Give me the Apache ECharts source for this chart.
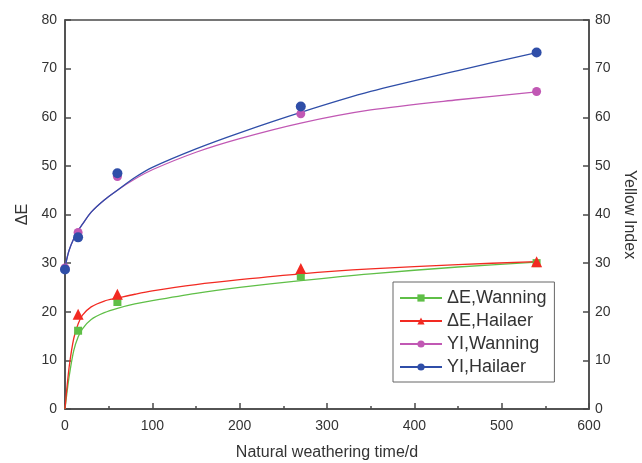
<!DOCTYPE html>
<html>
<head>
<meta charset="utf-8">
<script src="https://cdn.jsdelivr.net/npm/echarts@6/dist/echarts.min.js"></script>
<style>
  html, body { margin: 0; padding: 0; background: #fff; }
  #chart { width: 642px; height: 463px; }
</style>
</head>
<body>
<div id="chart"></div>
<script>
// measured points (days, value)
const daysMeasured = [15, 60, 270, 540]
const dEWanning = [16.1, 22.0, 27.3, 30.0]
const dEHailaer = [19.5, 23.6, 28.9, 30.3]
const yiDays = [0, 15, 60, 270, 540]
const yiWanning = [29.0, 36.3, 47.8, 60.7, 65.3]
const yiHailaer = [28.7, 35.3, 48.5, 62.2, 73.3]

// fitted curves
const fitDays = [0, 2, 5, 10, 15, 20, 30, 45, 60, 80, 100, 150, 200, 270, 350, 450, 540]
const fitDEWanning = [0, 3, 7, 12, 14.8, 16.5, 18.4, 19.8, 20.7, 21.6, 22.3, 23.8, 25.0, 26.4, 27.8, 29.2, 30.2]
const fitDEHailaer = [0, 4, 9, 14.5, 17.5, 19.3, 21.0, 22.2, 22.8, 23.6, 24.3, 25.6, 26.6, 27.8, 28.8, 29.7, 30.3]
const fitYIWanning = [29, 30.8, 32.8, 35, 36.6, 38, 40.5, 43, 45, 47.3, 49.2, 52.8, 55.6, 58.8, 61.5, 63.6, 65.2]
const fitYIHailaer = [29, 30.8, 32.8, 35, 36.7, 38, 40.5, 43, 45, 47.6, 49.7, 53.5, 56.8, 61.0, 65.3, 69.6, 73.3]

const names = ['ΔE,Wanning', 'ΔE,Hailaer', 'YI,Wanning', 'YI,Hailaer']
const colors = ['#5fbf47', '#f22a22', '#c158b4', '#2f4ea8']
const symbols = ['rect', 'triangle', 'circle', 'circle']
const symbolSizes = [8, 11, 9, 10]

const zip = (xs, ys) => xs.map((x, i) => [x, ys[i]])

const fits = [fitDEWanning, fitDEHailaer, fitYIWanning, fitYIHailaer]
const points = [zip(daysMeasured, dEWanning), zip(daysMeasured, dEHailaer), zip(yiDays, yiWanning), zip(yiDays, yiHailaer)]

const series = []
names.forEach((name, i) => {
  series.push({
    name, type: 'line', smooth: 0.3, showSymbol: false,
    symbol: symbols[i], symbolSize: symbolSizes[i] - 2,
    yAxisIndex: i < 2 ? 0 : 1,
    data: zip(fitDays, fits[i]),
    lineStyle: { color: colors[i], width: 1.3 },
    itemStyle: { color: colors[i] },
    silent: true, z: 2
  })
})
names.forEach((name, i) => {
  series.push({
    name, type: 'scatter',
    symbol: symbols[i], symbolSize: symbolSizes[i],
    yAxisIndex: i < 2 ? 0 : 1,
    data: points[i],
    itemStyle: { color: colors[i], opacity: 1 },
    z: 3
  })
})

const axisColor = '#4a4a4a'
const font = 'Liberation Sans'
const labelStyle = { color: '#333', fontSize: 14, fontFamily: font }

const chart = echarts.init(document.getElementById('chart'))
chart.setOption({
  animation: false,
  grid: {
    left: 65, right: 53, top: 20, bottom: 54,
    outerBoundsMode: 'none',
    show: true, borderColor: axisColor, borderWidth: 1.5
  },
  legend: {
    data: names,
    orient: 'vertical',
    left: 393, top: 282,
    itemWidth: 42, itemHeight: 9, itemGap: 5,
    padding: [7, 8, 6, 6],
    borderColor: '#666', borderWidth: 1,
    textStyle: { color: '#333', fontSize: 18, fontFamily: font }
  },
  xAxis: {
    type: 'value', min: 0, max: 600, interval: 100,
    name: 'Natural weathering time/d', nameLocation: 'middle', nameGap: 36,
    nameTextStyle: { color: '#333', fontSize: 16, fontFamily: font },
    axisLine: { lineStyle: { color: axisColor, width: 1.5 } },
    axisTick: { inside: true, length: 6, lineStyle: { color: axisColor, width: 1.5 } },
    minorTick: { show: true, splitNumber: 2, length: 3, lineStyle: { color: axisColor, width: 1.5 } },
    axisLabel: { ...labelStyle, margin: 10 },
    splitLine: { show: false }
  },
  yAxis: [{
    type: 'value', min: 0, max: 80, interval: 10, position: 'left',
    name: 'ΔE', nameLocation: 'middle', nameGap: 29, nameRotate: 90,
    nameTextStyle: { color: '#333', fontSize: 16, fontFamily: font },
    axisLine: { show: true, lineStyle: { color: axisColor, width: 1.5 } },
    axisTick: { show: true, inside: true, length: 6, lineStyle: { color: axisColor, width: 1.5 } },
    axisLabel: { ...labelStyle, margin: 8 },
    splitLine: { show: false }
  }, {
    type: 'value', min: 0, max: 80, interval: 10, position: 'right',
    name: 'Yellow Index', nameLocation: 'middle', nameGap: 31, nameRotate: -90,
    nameTextStyle: { color: '#333', fontSize: 16, fontFamily: font },
    axisLine: { show: true, lineStyle: { color: axisColor, width: 1.5 } },
    axisTick: { show: true, inside: true, length: 6, lineStyle: { color: axisColor, width: 1.5 } },
    axisLabel: { ...labelStyle, margin: 6 },
    splitLine: { show: false }
  }],
  series
})
</script>
</body>
</html>
